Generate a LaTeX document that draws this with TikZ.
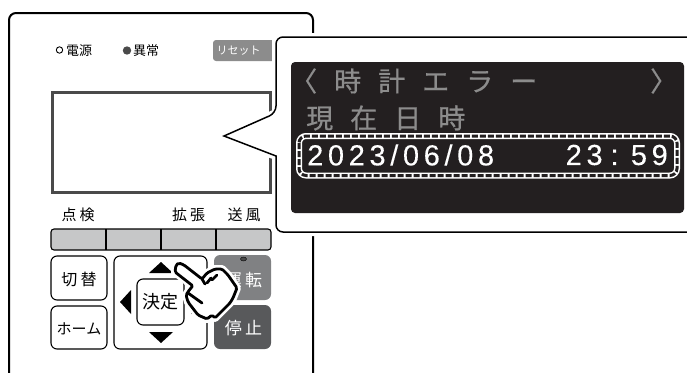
\documentclass[tikz,border=0pt]{standalone}
\usepackage{fontspec}
\usepackage{xcolor}
\setmainfont{Noto Sans CJK JP}
\newfontfamily\keyfont[LetterSpace=20]{Noto Sans CJK JP}
\newfontfamily\widefont[LetterSpace=63,FakeBold=0.6]{Noto Sans CJK JP}
\newfontfamily\lcdfont[LetterSpace=16,FakeBold=0.2]{Liberation Sans}
\definecolor{screenline}{HTML}{4A4A4A}
\definecolor{softkey}{HTML}{C6C7C8}
\definecolor{runkey}{HTML}{808183}
\definecolor{stopkey}{HTML}{58595B}
\definecolor{lcdback}{HTML}{231F20}
\definecolor{lcdgrey}{HTML}{8C8C8C}
\tikzset{
  keybox/.style={draw=black,line width=1.1pt,rounded corners=6pt,fill=white},
  keylabel/.style={font=\keyfont\fontsize{16}{16}\selectfont,inner sep=0pt},
  powerkey/.style={font=\keyfont\fontsize{17}{17}\selectfont,inner sep=0pt,text=white},
  ledlabel/.style={font=\fontsize{13}{13}\selectfont,inner sep=0pt,anchor=west},
  lcdgreytext/.style={font=\widefont\fontsize{27}{27}\selectfont,inner sep=0pt,text=lcdgrey,anchor=west},
  lcdwhitetext/.style={font=\lcdfont\fontsize{29}{29}\selectfont,inner sep=0pt,text=white},
  triangle/.style={fill=black,draw=none},
  handline/.style={line width=2.8pt,line cap=round,line join=round}
}
\def\handpath{(176,265) -- (179,263) -- (184,265) -- (202,279) -- (207,273) -- (215,269) -- (222,269) -- (228,275) -- (237,288) -- (233,298) -- (230,303) -- (215,318) -- (212,315) -- (207,319) -- (198,315) -- (188,302) -- (186,295) -- (190,289) -- (193,286) -- (175,272) -- cycle}

\begin{document}
\begin{tikzpicture}[x=1pt,y=-1pt]
\useasboundingbox (0,0) rectangle (687,372);
\clip (0,0) rectangle (687,372);
\fill[white] (0,0) rectangle (687,372);

% panel
\draw[line width=2pt,rounded corners=7pt] (9,400) -- (9,13) -- (313,13) -- (313,400);

% lamps
\draw[line width=0.9pt] (59.5,50) circle (3.2);
\node[ledlabel] (power) at (66,51) {電源};
\fill[screenline] (127,50.5) circle (4.2);
\node[ledlabel] (alarm) at (133,51) {異常};
\fill[lcdgrey,rounded corners=3pt] (213,40) rectangle (280,61);
\node[font=\fontsize{11}{11}\selectfont,text=white,inner sep=0pt] (reset) at (238.5,51) {リセット};

% panel screen
\draw[screenline,line width=3pt] (52,92) rectangle (270,192);

% soft keys
\node[keylabel,font=\keyfont\fontsize{15}{15}\selectfont] (check) at (78,214.5) {点検};
\node[keylabel,font=\keyfont\fontsize{15}{15}\selectfont] (extend) at (188.5,214.5) {拡張};
\node[keylabel,font=\keyfont\fontsize{15}{15}\selectfont] (blow) at (244,214.5) {送風};
\draw[fill=softkey,line width=1.1pt,rounded corners=3pt] (51,229) rectangle (271,250);
\draw[line width=1.1pt] (106,229) -- (106,250);
\draw[line width=1.1pt] (161,229) -- (161,250);
\draw[line width=1.1pt] (216,229) -- (216,250);

% left keys
\draw[keybox] (51,256) rectangle (107,300);
\node[keylabel] (switch) at (79,279) {切替};
\draw[keybox] (51,306) rectangle (107,349);
\node[font=\fontsize{15}{15}\selectfont,inner sep=0pt] (home) at (79,329) {ホーム};

% cross keys
\draw[keybox] (114,256) rectangle (207,349);
\fill[triangle] (161,262) -- (173,273) -- (149,273) -- cycle;
\fill[triangle] (161,343) -- (173,332) -- (149,332) -- cycle;
\fill[triangle] (120,302) -- (131,290) -- (131,314) -- cycle;
\fill[triangle] (202,302) -- (191,290) -- (191,314) -- cycle;
\draw[keybox] (137,279) rectangle (184,325);
\node[font=\fontsize{18}{18}\selectfont,inner sep=0pt] (enter) at (160.5,302) {決定};

% run and stop keys
\fill[runkey,rounded corners=6pt] (214,255) rectangle (271,300);
\draw[fill=screenline,line width=0.4pt] (243.5,259) ellipse (3 and 2);
\node[powerkey] (run) at (243.5,280) {運転};
\fill[stopkey,rounded corners=6pt] (214,305) rectangle (271,349);
\node[powerkey] (stop) at (243.5,328) {停止};

% hand
\draw[white,line width=8pt,line join=round,fill=white] \handpath;
\draw[handline,rounded corners=1.5pt,fill=white] \handpath;
\draw[handline] (188,293) -- (202,303);
\draw[handline] (202,279) -- (205,284);
\draw[handline] (207,283) -- (211,278);
\draw[handline] (212,280) -- (217,275);

% callout
\draw[white,line width=8pt,fill=white] (700,37) -- (276,37) -- (276,113) -- (224,136) -- (276,156) -- (276,232) -- (700,232);
\draw[line width=1.5pt,fill=white,rounded corners=7pt] (700,37) -- (276,37) -- (276,113) [sharp corners] -- (224,136) -- (276,156) [rounded corners=7pt] -- (276,232) -- (700,232);

% display
\fill[lcdback,rounded corners=4pt] (291,62) rectangle (684,213);
\node[lcdgreytext] (title) at (290,81) {〈時計エラー};
\node[lcdgreytext] (close) at (650,81) {〉};
\node[lcdgreytext] (now) at (306,118) {現在日時};
\draw[white,line width=6pt,rounded corners=7pt] (299,136) rectangle (677,175.5);
\draw[lcdback,line width=3pt,dashed,dash pattern=on 6pt off 2pt,rounded corners=7pt] (299,136) rectangle (677,175.5);
\node[lcdwhitetext,anchor=west] (date) at (307,155) {2023/06/08};
\node[lcdwhitetext,anchor=east] (time) at (668,155) {\spaceskip=8pt 23 : 59};
\end{tikzpicture}
\end{document}
